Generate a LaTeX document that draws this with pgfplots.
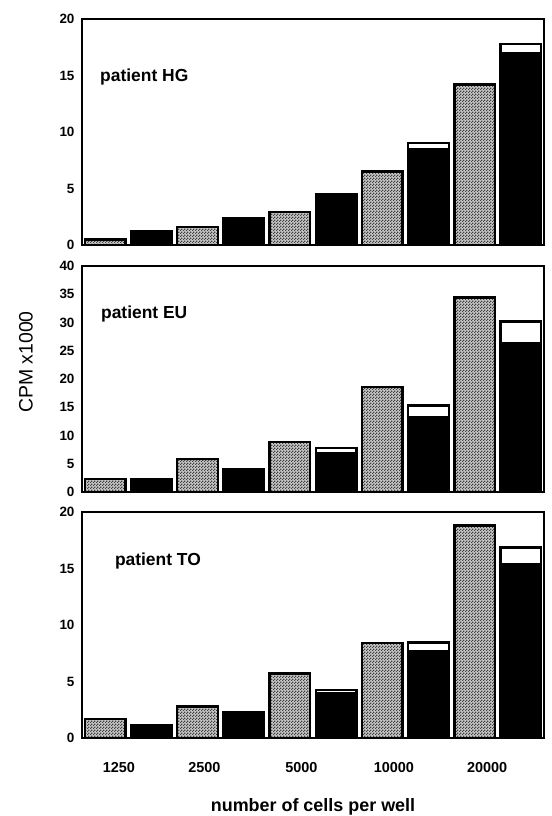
\documentclass[border=0pt]{standalone}
\usepackage{fontspec}
\setmainfont{Liberation Sans}
\usepackage{pgfplots}
\pgfplotsset{compat=1.18}
\usetikzlibrary{patterns.meta}

\pgfdeclarepattern{
  name=finecheck,
  type=uncolored,
  bottom left={\pgfpoint{0bp}{0bp}},
  top right={\pgfpoint{3bp}{3bp}},
  tile size={\pgfpoint{3bp}{3bp}},
  code={
    \pgfpathrectangle{\pgfpoint{0bp}{0bp}}{\pgfpoint{1.5bp}{1.5bp}}
    \pgfpathrectangle{\pgfpoint{1.5bp}{1.5bp}}{\pgfpoint{1.5bp}{1.5bp}}
    \pgfusepath{fill}
  }
}

\tikzset{plabel/.style={anchor=west, font=\fontsize{17.5}{17.5}\selectfont\bfseries, inner sep=0pt}}

\pgfplotsset{
  panel/.style={
    width=462bp, height=226bp, scale only axis,
    xmin=-0.5, xmax=9.5, ymin=0,
    axis line style={line width=2bp},
    xtick={0.3,2.15,4.25,6.25,8.27},
    xticklabels={},
    major tick length=0pt,
    /pgf/number format/assume math mode=true,
    yticklabel style={font=\fontsize{13.5}{13.5}\selectfont\bfseries, xshift=-4bp},
    xticklabel style={font=\fontsize{14.5}{14.5}\selectfont\bfseries, anchor=base, yshift=-34bp},
    ybar, bar width=0.88,
    clip=false,
  },
  graybar/.style={bar shift=0pt, draw=black, line width=2.3bp, preaction={fill=black!22}, pattern={finecheck}, pattern color=black!75},
  whitebar/.style={bar shift=0pt, draw=black, line width=2.3bp, fill=white},
  blackbar/.style={bar shift=0pt, draw=black, line width=2.3bp, fill=black},
}

\begin{document}
\begin{tikzpicture}
\useasboundingbox (0,0) rectangle (552bp,-816bp);

% ---------- panel HG ----------
\begin{axis}[panel, at={(82bp,-19bp)}, anchor=north west,
  ymax=20, ytick={0,5,10,15,20}]
\addplot[graybar] coordinates {(0,0.5) (2,1.6) (4,2.9) (6,6.5) (8,14.2)};
\addplot[whitebar] coordinates {(1,1.2) (3,2.35) (5,4.5) (7,9.0) (9,17.8)};
\addplot[blackbar] coordinates {(1,1.2) (3,2.35) (5,4.5) (7,8.5) (9,17.0)};
\node[plabel] at (axis cs:-0.11,14.9) {patient HG};
\end{axis}

% ---------- panel EU ----------
\begin{axis}[panel, at={(82bp,-266bp)}, anchor=north west,
  ymax=40, ytick={0,5,...,40}]
\addplot[graybar] coordinates {(0,2.3) (2,5.8) (4,8.8) (6,18.6) (8,34.4)};
\addplot[whitebar] coordinates {(1,2.3) (3,4.1) (5,7.75) (7,15.3) (9,30.2)};
\addplot[blackbar] coordinates {(1,2.3) (3,4.1) (5,6.9) (7,13.3) (9,26.4)};
\node[plabel] at (axis cs:-0.09,31.5) {patient EU};
\end{axis}

% ---------- panel TO ----------
\begin{axis}[panel, at={(82bp,-512bp)}, anchor=north west,
  ymax=20, ytick={0,5,10,15,20},
  xticklabels={1250,2500,5000,10000,20000}]
\addplot[graybar] coordinates {(0,1.7) (2,2.8) (4,5.7) (6,8.4) (8,18.8)};
\addplot[whitebar] coordinates {(1,1.18) (3,2.3) (5,4.25) (7,8.45) (9,16.85)};
\addplot[blackbar] coordinates {(1,1.18) (3,2.3) (5,3.95) (7,7.7) (9,15.4)};
\node[plabel] at (axis cs:0.21,15.7) {patient TO};
\end{axis}

\node[anchor=base, font=\fontsize{18}{18}\selectfont\bfseries] at (313bp,-811bp) {number of cells per well};
\node[rotate=90, font=\fontsize{19.5}{19.5}\selectfont] at (26bp,-362bp) {CPM x1000};
\end{tikzpicture}
\end{document}
